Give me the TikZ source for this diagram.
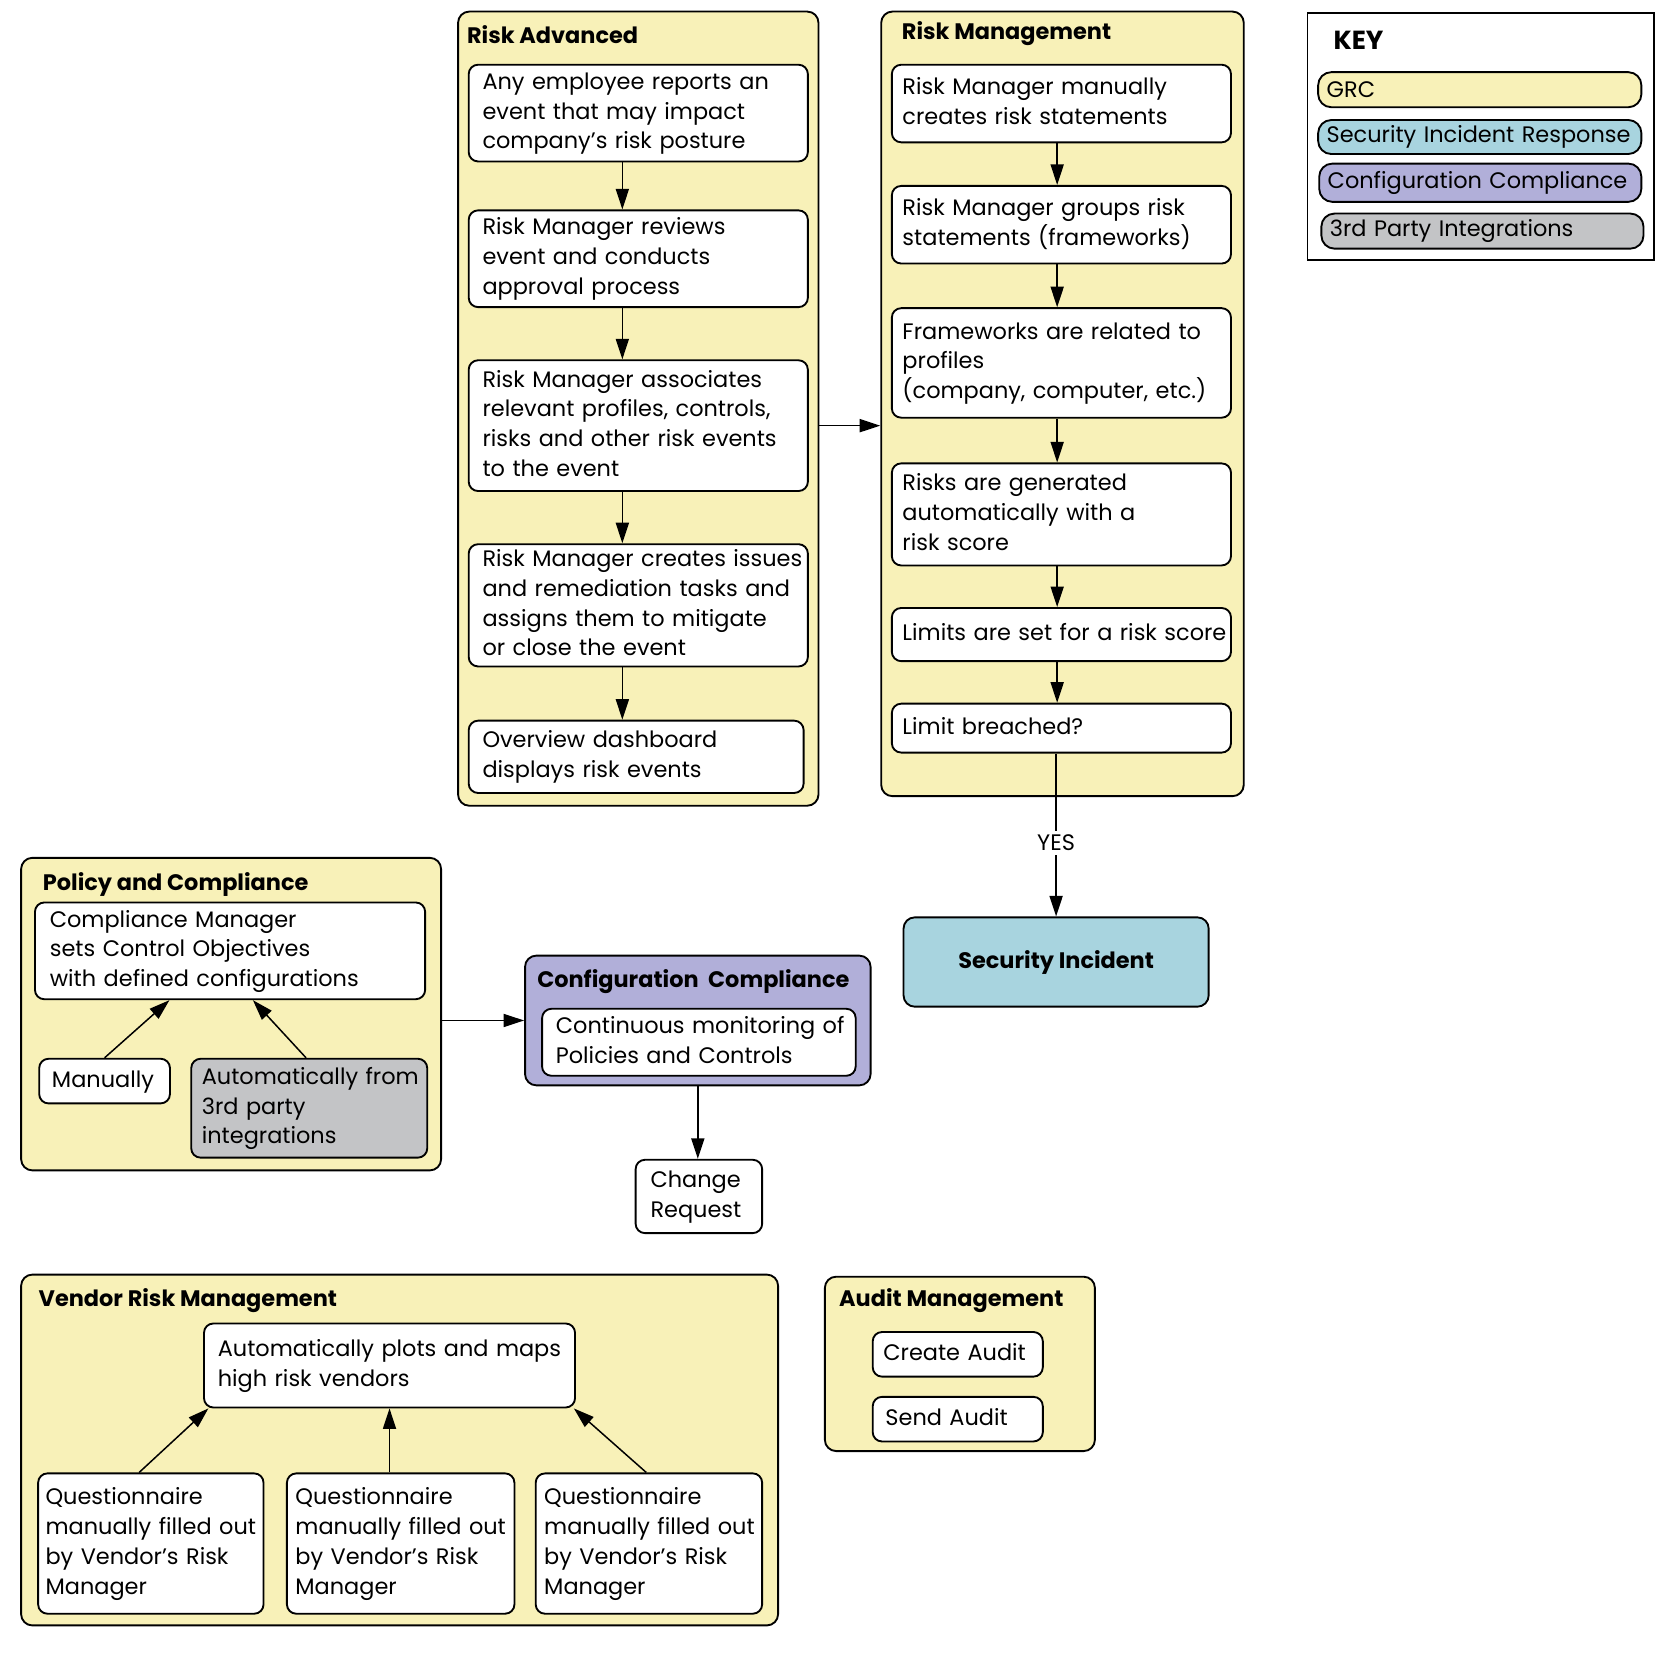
\documentclass[tikz,border=0pt]{standalone}
\usepackage{fontspec}
\setmainfont{Poppins}
\usetikzlibrary{arrows.meta}

\definecolor{grcYellow}{HTML}{F8F1B8}
\definecolor{sirBlue}{HTML}{A8D4DF}
\definecolor{ccPurple}{HTML}{B1AFD9}
\definecolor{tpGray}{HTML}{C3C4C6}

% lines of a step box, kept on one line each
\newcommand{\stepLines}[1]{\begin{tabular}{@{}l@{}}#1\end{tabular}}

\begin{document}
\begin{tikzpicture}[x=0.02cm,y=-0.02cm]
% y points down, units follow the screenshot pixels

% style
\tikzset{
    every node/.style={font=\fontsize{12}{15.9}\selectfont},
    baseLine/.style={draw, line width=1pt},
    wh/.style 2 args={minimum width=#1*0.02cm, minimum height=#2*0.02cm},
    groupBox/.style={baseLine, fill=grcYellow, rounded corners=6pt, anchor=north west, inner sep=0pt},
    stepBox/.style n args={3}{baseLine, fill=white, rounded corners=5pt, anchor=north west,
        align=left, inner sep=0pt, wh={#1}{#2}, text width=(#1-2*#3)*0.02cm},
    keyItem/.style n args={3}{baseLine, fill=#3, rounded corners=7pt, anchor=north west,
        align=left, inner sep=0pt, wh={#1}{#2}, text width=(#1-16)*0.02cm},
    groupTitle/.style={anchor=west, inner sep=0pt, font=\fontsize{12}{14}\selectfont\bfseries},
    arrowLine/.style={line width=0.8pt, -{Triangle[length=11pt, width=7pt]}}
}

\useasboundingbox (0,0) rectangle (1568,1554);

% group boxes
\node[groupBox, wh={339}{747}] (ra) at (430,10) {};
\node[groupBox, wh={341}{738}] (rm) at (828,10) {};
\node[groupBox, wh={395}{294}] (pc) at (19,806) {};
\node[groupBox, wh={325}{122}, fill=ccPurple] (cfg) at (493,898) {};
\node[groupBox, wh={712}{330}] (vr) at (19,1198) {};
\node[groupBox, wh={254}{164}] (am) at (775,1200) {};
\node[baseLine, fill=white, anchor=north west, inner sep=0pt, wh={326}{233}] (key) at (1229,11) {};

\node[groupTitle] (raT)  at (439,33)  {Risk Advanced};
\node[groupTitle] (rmT)  at (848,32)  {Risk Management};
\node[groupTitle] (pcT)  at (40,832)  {Policy and Compliance};
\node[groupTitle] (cfgT) at (505,923) {Configuration\ \ Compliance};
\node[groupTitle] (vrT)  at (36,1223) {Vendor Risk Management};
\node[groupTitle] (amT)  at (789,1223) {Audit Management};
\node[groupTitle, font=\fontsize{14}{16}\selectfont\bfseries] (keyT) at (1254,38) {KEY};

% risk advanced
\node[stepBox={319}{91}{13}]  (ra1) at (440,60)  {\stepLines{Any employee reports an\\event that may impact\\company’s risk posture}};
\node[stepBox={319}{91}{13}]  (ra2) at (440,197) {\stepLines{Risk Manager reviews\\event and conducts\\approval process}};
\node[stepBox={319}{123}{13}] (ra3) at (440,338) {\stepLines{Risk Manager associates\\relevant profiles, controls,\\risks and other risk events\\to the event}};
\node[stepBox={319}{115}{13}] (ra4) at (440,511) {\stepLines{Risk Manager creates issues\\and remediation tasks and\\assigns them to mitigate\\or close the event}};
\node[stepBox={315}{68}{13}]  (ra5) at (440,677) {\stepLines{Overview dashboard\\displays risk events}};

% risk management
\node[stepBox={319}{73}{10}]  (rm1) at (838,60)  {\stepLines{Risk Manager manually\\creates risk statements}};
\node[stepBox={319}{73}{10}]  (rm2) at (838,174) {\stepLines{Risk Manager groups risk\\statements (frameworks)}};
\node[stepBox={319}{103}{10}] (rm3) at (838,289) {\stepLines{Frameworks are related to\\profiles\\(company, computer, etc.)}};
\node[stepBox={319}{96}{10}]  (rm4) at (838,435) {\stepLines{Risks are generated\\automatically with a\\risk score}};
\node[stepBox={319}{50}{10}]  (rm5) at (838,571) {\stepLines{Limits are set for a risk score}};
\node[stepBox={319}{46}{10}]  (rm6) at (838,661) {\stepLines{Limit breached?}};

\node[baseLine, fill=sirBlue, rounded corners=6pt, anchor=north west, inner sep=0pt, wh={287}{84},
      font=\fontsize{12}{14}\selectfont\bfseries] (si) at (849,862) {Security Incident};

% policy and compliance
\node[stepBox={367}{91}{14}] (pc1) at (32,848) {\stepLines{Compliance Manager\\sets Control Objectives\\with defined configurations}};
\node[stepBox={123}{42}{12}] (man) at (36,995) {\stepLines{Manually}};
\node[stepBox={222}{93}{10}, fill=tpGray] (auto) at (179,995) {\stepLines{Automatically from\\3rd party\\integrations}};

% configuration compliance
\node[stepBox={295}{63}{13}] (cc1) at (509,948) {\stepLines{Continuous monitoring of\\Policies and Controls}};
\node[stepBox={119}{69}{14}] (cr) at (597,1090) {\stepLines{Change\\Request}};

% vendor risk management
\node[stepBox={349}{79}{13}]  (v0) at (191,1244) {\stepLines{Automatically plots and maps\\high risk vendors}};
\node[stepBox={212}{132}{7}]  (q1) at (35,1385)  {\stepLines{Questionnaire\\manually filled out\\by Vendor’s Risk\\Manager}};
\node[stepBox={214}{132}{8}]  (q2) at (269,1385) {\stepLines{Questionnaire\\manually filled out\\by Vendor’s Risk\\Manager}};
\node[stepBox={213}{132}{8}]  (q3) at (503,1385) {\stepLines{Questionnaire\\manually filled out\\by Vendor’s Risk\\Manager}};

% audit management
\node[stepBox={160}{42}{10}] (ca) at (820,1252) {\stepLines{Create Audit}};
\node[stepBox={160}{42}{12}] (sa) at (820,1313) {\stepLines{Send Audit}};

% key
\node[keyItem={304}{33}{grcYellow}] (k1) at (1239,67)  {GRC};
\node[keyItem={304}{32}{sirBlue}]   (k2) at (1239,112) {\stepLines{Security Incident Response}};
\node[keyItem={303}{36}{ccPurple}]  (k3) at (1240,153) {\stepLines{Configuration Compliance}};
\node[keyItem={303}{33}{tpGray}]    (k4) at (1242,200) {3rd Party Integrations};

% arrows
\foreach \a/\b in {ra1/ra2, ra2/ra3, ra3/ra4, ra4/ra5}
    \draw[arrowLine] ([xshift=-0.3cm]\a.south) -- ([xshift=-0.3cm]\a.south |- \b.north);
\foreach \a/\b in {rm1/rm2, rm2/rm3, rm3/rm4, rm4/rm5, rm5/rm6}
    \draw[arrowLine] ([xshift=-0.08cm]\a.south) -- ([xshift=-0.08cm]\b.north);
\draw[arrowLine] (ra3.east -| ra.east) -- (ra3.east -| rm.west);
\draw[arrowLine] (si.north |- rm6.south) -- node[pos=0.55, fill=white, inner sep=2pt] (yesL) {YES} (si.north);

\draw[arrowLine] (man.north) -- ([xshift=-1.14cm]pc1.south);
\draw[arrowLine] ([xshift=-0.06cm]auto.north) -- ([xshift=0.43cm]pc1.south);
\draw[arrowLine] (cfg.west -| pc.east) -- (cfg.west);
\draw[arrowLine] (cfg.south) -- (cfg.south |- cr.north);

\draw[arrowLine] ([xshift=-0.22cm]q1.north) -- ([xshift=0.1cm]v0.south west);
\draw[arrowLine] (q2.north -| v0.south) -- (v0.south);
\draw[arrowLine] ([xshift=-0.05cm]q3.north) -- ([xshift=-0.04cm]v0.south east);

\end{tikzpicture}
\end{document}
